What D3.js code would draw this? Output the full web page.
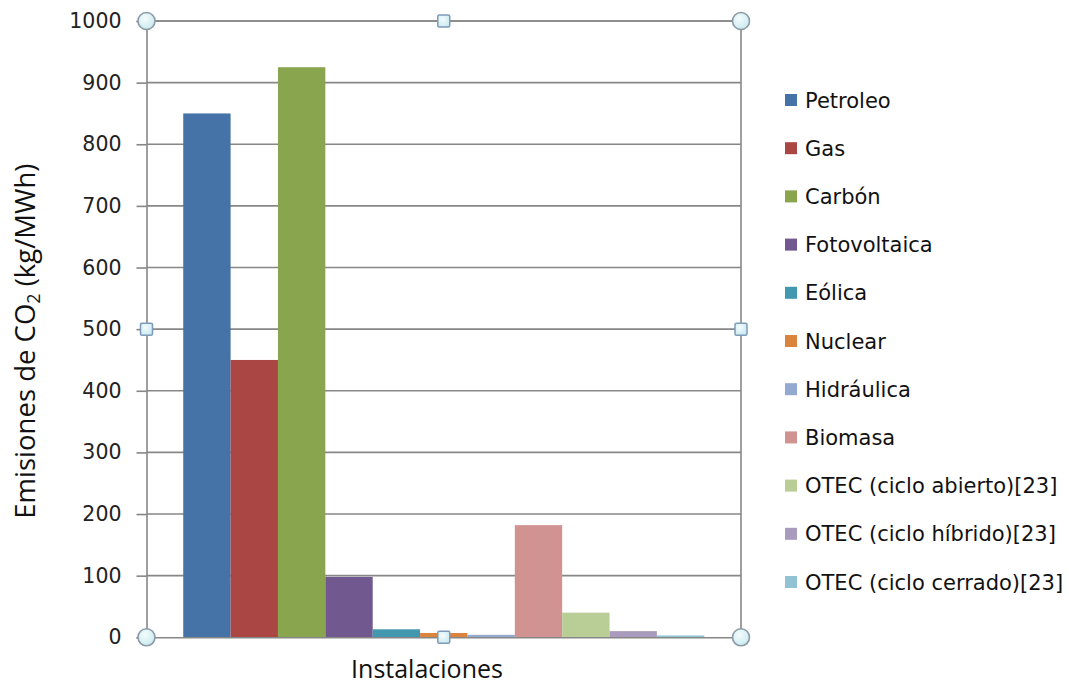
<!DOCTYPE html>
<html><head><meta charset="utf-8">
<script src="https://cdn.jsdelivr.net/npm/d3@7"></script>
<style>body{margin:0;background:#fff}</style>
</head><body>
<svg id="c" width="1069" height="685"></svg>
<script>
const categories = ["Petroleo","Gas","Carbón","Fotovoltaica","Eólica","Nuclear","Hidráulica","Biomasa","OTEC (ciclo abierto)[23]","OTEC (ciclo híbrido)[23]","OTEC (ciclo cerrado)[23]"];
const values = [850, 450, 925, 98, 13, 7, 4, 182, 40, 10, 3];
const colors = ["#4572A7","#AA4643","#89A54E","#71588F","#4198AF","#DB843D","#93A9CF","#D19392","#B9CD96","#A99BBD","#91C3D5"];
const yTicks = [0,100,200,300,400,500,600,700,800,900,1000];
const group = ["Instalaciones"];

const svg = d3.select("#c");
const L = 146.5, R = 741, T = 21, B = 637.3;
const y = d3.scaleLinear().domain([0,1000]).range([B,T]);
const x0 = d3.scaleBand().domain(group).range([L,R]).paddingInner(0).paddingOuter(0.0705);
const x1 = d3.scaleBand().domain(categories).range([x0(group[0]), x0(group[0]) + x0.bandwidth()]);

// grid
svg.append("g").selectAll("line").data(yTicks.filter(d=>d>0)).join("line")
  .attr("x1",L).attr("x2",R).attr("y1",d=>y(d)).attr("y2",d=>y(d))
  .attr("stroke","#878787").attr("stroke-width",1.6);

// bars
svg.append("g").selectAll("rect").data(categories).join("rect")
  .attr("x",d=>x1(d)).attr("width",x1.bandwidth())
  .attr("y",(d,i)=>y(values[i])).attr("height",(d,i)=>B-y(values[i]))
  .attr("fill",(d,i)=>colors[i]);

// axes
const ya = d3.axisLeft(y).tickValues(yTicks).tickFormat(d3.format("d")).tickSize(10).tickPadding(15);
const gy = svg.append("g").attr("transform",`translate(${L},0)`).call(ya);
gy.select(".domain").attr("stroke","#878787").attr("stroke-width",1.6);
gy.selectAll(".tick line").attr("stroke","#878787").attr("stroke-width",1.6);
gy.selectAll(".tick text").attr("font-family","DejaVu Sans, Verdana, sans-serif").attr("font-size",20.5).attr("fill","#222");

const xa = d3.axisBottom(x0).tickSize(0).tickFormat("");
const gx = svg.append("g").attr("transform",`translate(0,${B})`).call(xa);
gx.select(".domain").attr("stroke","#878787").attr("stroke-width",1.6);

// top and right borders
svg.append("line").attr("x1",L).attr("x2",R).attr("y1",T).attr("y2",T).attr("stroke","#878787").attr("stroke-width",1.6);
svg.append("line").attr("x1",R).attr("x2",R).attr("y1",T).attr("y2",B).attr("stroke","#878787").attr("stroke-width",1.6);

// selection handles
const defs = svg.append("defs");
const gr = defs.append("radialGradient").attr("id","hg").attr("cx","40%").attr("cy","35%").attr("r","70%");
gr.append("stop").attr("offset","0%").attr("stop-color","#f4fcfd");
gr.append("stop").attr("offset","100%").attr("stop-color","#c9e9ef");
const midX = (L+R)/2, midY = (T+B)/2;
[[L,T],[R,T],[L,B],[R,B]].forEach(([cx,cy])=>{
  svg.append("circle").attr("cx",cx).attr("cy",cy).attr("r",8.5).attr("fill","url(#hg)").attr("stroke","#8a9aa6").attr("stroke-width",1.6);
});
[[midX,T],[midX,B],[L,midY],[R,midY]].forEach(([cx,cy])=>{
  svg.append("rect").attr("x",cx-6).attr("y",cy-6).attr("width",12).attr("height",12).attr("rx",1.5)
    .attr("fill","url(#hg)").attr("stroke","#7d9bb8").attr("stroke-width",1.5);
});

// legend
const lg = svg.append("g");
categories.forEach((c,i)=>{
  const ly = 100 + i*48.2;
  lg.append("rect").attr("x",785).attr("y",ly-6).attr("width",12).attr("height",12).attr("fill",colors[i]);
  lg.append("text").attr("x",805).attr("y",ly).attr("dy","0.36em").text(c)
    .attr("font-family","DejaVu Sans, Verdana, sans-serif").attr("font-size",21).attr("fill","#111");
});

// axis titles
svg.append("text").attr("transform",`translate(35,${(T+B)/2+12}) rotate(-90)`).attr("text-anchor","middle")
  .attr("font-family","Open Sans, sans-serif").attr("font-size",27.5).attr("fill","#111")
  .html('Emisiones de CO<tspan font-size="18" dy="5">2</tspan><tspan dy="-5"> (kg/MWh)</tspan>');
svg.append("text").attr("x",427).attr("y",678).attr("text-anchor","middle")
  .attr("font-family","Open Sans, sans-serif").attr("font-size",25).attr("fill","#111").text(group[0]);
</script>
</body></html>
